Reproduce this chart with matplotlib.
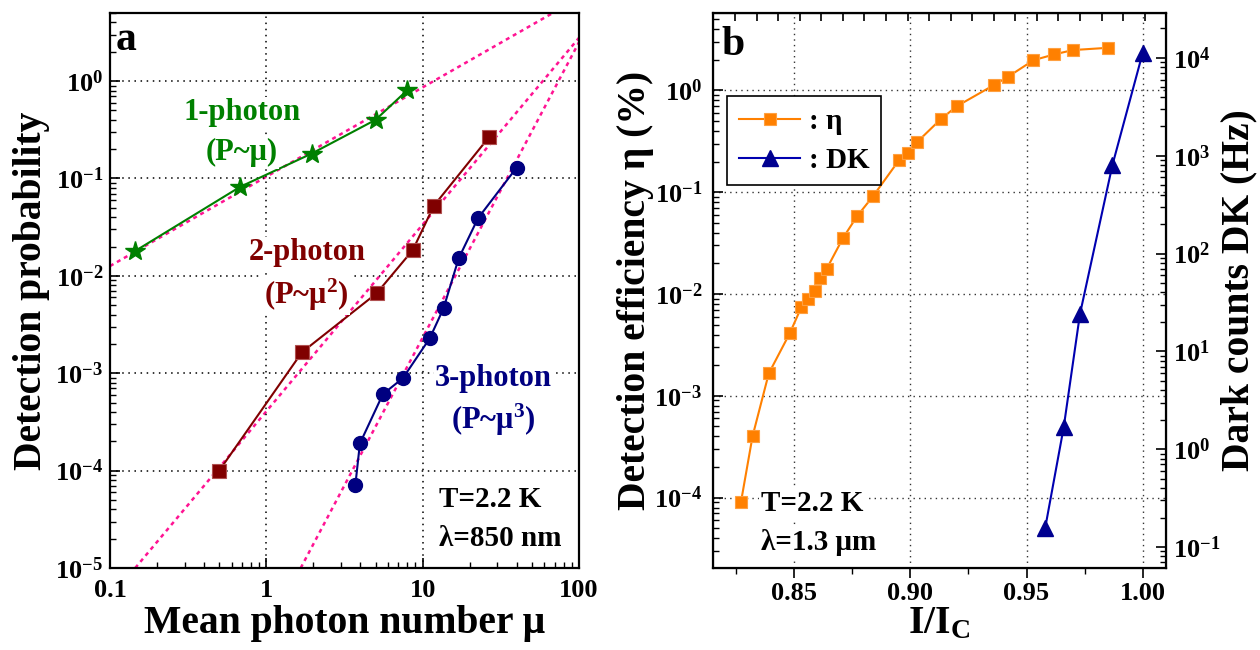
import numpy as np
import matplotlib
matplotlib.use("Agg")
import matplotlib.pyplot as plt
from matplotlib.ticker import LogLocator, MultipleLocator, NullFormatter, FormatStrFormatter

plt.rcParams["font.family"] = ["Liberation Serif", "DejaVu Serif"]
plt.rcParams["font.weight"] = "bold"
plt.rcParams["axes.labelweight"] = "bold"
plt.rcParams["mathtext.fontset"] = "custom"
plt.rcParams["mathtext.rm"] = "Liberation Serif:bold"
plt.rcParams["mathtext.bf"] = "Liberation Serif:bold"
plt.rcParams["mathtext.it"] = "Liberation Serif:italic:bold"
plt.rcParams["mathtext.default"] = "bf"

# panel a: detection probability vs mean photon number
mu_1ph = [0.145, 0.68, 1.95, 5.0, 8.0]
p_1ph = [0.018, 0.082, 0.18, 0.40, 0.81]
mu_2ph = [0.5, 1.69, 5.07, 8.65, 11.8, 26.6]
p_2ph = [1.0e-4, 1.64e-3, 6.6e-3, 0.0184, 0.0525, 0.266]
mu_3ph = [3.71, 3.97, 5.57, 7.48, 11.1, 13.6, 17.0, 22.6, 39.9]
p_3ph = [7.1e-5, 1.9e-4, 6.1e-4, 8.9e-4, 2.28e-3, 4.64e-3, 0.0151, 0.039, 0.129]

# fitted power laws, end points as drawn
fit_1ph_mu = [0.1, 68.0]
fit_1ph_p = [0.0126, 5.0]
fit_2ph_mu = [0.145, 100.0]
fit_2ph_p = [1e-5, 2.78]
fit_3ph_mu = [1.66, 100.0]
fit_3ph_p = [1e-5, 2.5]

# panel b: efficiency and dark counts vs bias current
ic_eta = [0.827, 0.832, 0.839, 0.848, 0.853, 0.856, 0.859, 0.861, 0.864, 0.871,
          0.877, 0.884, 0.895, 0.899, 0.903, 0.913, 0.920, 0.936, 0.942, 0.953,
          0.962, 0.970, 0.985]
eta = [9.0e-5, 4.0e-4, 1.66e-3, 4.1e-3, 7.4e-3, 8.9e-3, 0.0106, 0.0143, 0.0178, 0.0356,
       0.058, 0.092, 0.205, 0.244, 0.313, 0.52, 0.70, 1.13, 1.36, 1.98,
       2.26, 2.49, 2.62]
ic_dk = [0.958, 0.966, 0.973, 0.987, 1.000]
dk = [0.155, 1.67, 24.0, 805.0, 1.12e4]

PINK = "#ff1493"
TICK_FS = 19
LABEL_FS = 28.5
NOTE_FS = 21
WHITE_BOX = dict(facecolor="white", edgecolor="none", pad=1)

fig = plt.figure(figsize=(12.6, 6.5), dpi=100)
ax_a = fig.add_axes([0.0873, 0.1262, 0.3722, 0.8538])
ax_b = fig.add_axes([0.5661, 0.1266, 0.3590, 0.8539])

# ---- panel a ----
ax_a.set_xscale("log")
ax_a.set_yscale("log")
for fx, fy in [(fit_1ph_mu, fit_1ph_p), (fit_2ph_mu, fit_2ph_p), (fit_3ph_mu, fit_3ph_p)]:
    ax_a.plot(fx, fy, color=PINK, lw=1.8, ls=(0, (1.6, 1.6)), zorder=1)
ax_a.plot(mu_1ph, p_1ph, color="#008000", lw=1.5, marker="*", ms=15, zorder=2)
ax_a.plot(mu_2ph, p_2ph, color="#800000", lw=1.5, marker="s", ms=10,
          mec="#b05050", mew=0.8, zorder=2)
ax_a.plot(mu_3ph, p_3ph, color="#000080", lw=1.5, marker="o", ms=10, zorder=2)

ax_a.set_xlim(0.1, 100)
ax_a.set_ylim(1e-5, 5)
ax_a.set_xticks([0.1, 1, 10, 100])
ax_a.set_xticklabels(["0.1", "1", "10", "100"])
ax_a.yaxis.set_major_locator(LogLocator(base=10, numticks=10))
ax_a.yaxis.set_minor_locator(LogLocator(base=10, subs=np.arange(2, 10), numticks=10))
ax_a.yaxis.set_minor_formatter(NullFormatter())
ax_a.xaxis.set_minor_locator(LogLocator(base=10, subs=np.arange(2, 10), numticks=10))
ax_a.xaxis.set_minor_formatter(NullFormatter())
ax_a.tick_params(which="both", direction="in", labelsize=TICK_FS, top=False, right=False)
ax_a.tick_params(which="major", length=7, width=1.2)
ax_a.tick_params(which="minor", length=4, width=1)
ax_a.tick_params(axis="x", pad=8)
ax_a.tick_params(axis="y", pad=5)
ax_a.grid(True, which="major", color="black", ls=(0, (1, 3)), lw=1.1)
for s in ax_a.spines.values():
    s.set_linewidth(1.6)
ax_a.set_xlabel("Mean photon number μ", fontsize=LABEL_FS, labelpad=2)
ax_a.set_ylabel("Detection probability", fontsize=LABEL_FS, labelpad=4)

ax_a.text(0.012, 0.951, "a", transform=ax_a.transAxes, fontsize=30, va="center")
ax_a.text(0.281, 0.820, "1-photon", transform=ax_a.transAxes, fontsize=22,
          color="#008000", ha="center", va="center", bbox=WHITE_BOX)
ax_a.text(0.281, 0.748, "(P~μ)", transform=ax_a.transAxes, fontsize=22,
          color="#008000", ha="center", va="center", bbox=WHITE_BOX)
ax_a.text(0.420, 0.568, "2-photon", transform=ax_a.transAxes, fontsize=22,
          color="#800000", ha="center", va="center", bbox=WHITE_BOX)
ax_a.text(0.418, 0.492, "(P~μ$^{2}$)", transform=ax_a.transAxes, fontsize=22,
          color="#800000", ha="center", va="center", bbox=WHITE_BOX)
ax_a.text(0.818, 0.341, "3-photon", transform=ax_a.transAxes, fontsize=22,
          color="#000080", ha="center", va="center", bbox=WHITE_BOX)
ax_a.text(0.818, 0.267, "(P~μ$^{3}$)", transform=ax_a.transAxes, fontsize=22,
          color="#000080", ha="center", va="center", bbox=WHITE_BOX)
ax_a.text(0.701, 0.123, "T=2.2 K", transform=ax_a.transAxes, fontsize=NOTE_FS,
          va="center", bbox=WHITE_BOX)
ax_a.text(0.701, 0.054, "λ=850 nm", transform=ax_a.transAxes, fontsize=NOTE_FS,
          va="center", bbox=WHITE_BOX)

# ---- panel b ----
ax_b.set_yscale("log")
l_eta, = ax_b.plot(ic_eta, eta, color="#ff8000", lw=1.5, marker="s", ms=9,
                   mec="#ffa040", mew=0.8, label=": η", zorder=3)
ax_b.set_xlim(0.8151, 1.0099)
ax_b.set_ylim(2.05e-5, 5.8)
ax_b.xaxis.set_major_locator(MultipleLocator(0.05))
ax_b.xaxis.set_minor_locator(MultipleLocator(0.025))
ax_b.xaxis.set_major_formatter(FormatStrFormatter("%.2f"))
ax_b.yaxis.set_major_locator(LogLocator(base=10, numticks=10))
ax_b.yaxis.set_minor_locator(LogLocator(base=10, subs=np.arange(2, 10), numticks=10))
ax_b.yaxis.set_minor_formatter(NullFormatter())
ax_b.tick_params(axis="x", which="both", direction="out", labelsize=TICK_FS, top=False)
ax_b.tick_params(axis="y", which="both", direction="in", labelsize=TICK_FS, right=False)
ax_b.tick_params(which="major", length=7, width=1.2)
ax_b.tick_params(which="minor", length=4, width=1)
ax_b.tick_params(axis="y", pad=8)
ax_b.grid(True, which="major", color="#333333", ls=(0, (1, 3)), lw=1.0)
for s in ax_b.spines.values():
    s.set_linewidth(1.6)
ax_b.set_xlabel("I/I$_{\\mathbf{C}}$", fontsize=LABEL_FS, labelpad=0)
ax_b.set_ylabel("Detection efficiency η (%)", fontsize=LABEL_FS, labelpad=0)

# unlabelled ticks along the top edge
top = ax_b.secondary_xaxis("top")
top.set_xticks(np.linspace(0.8245, 1.0009, 20))
top.tick_params(direction="in", length=6, width=1.2, labeltop=False)

ax_dk = ax_b.twinx()
ax_dk.set_yscale("log")
l_dk, = ax_dk.plot(ic_dk, dk, color="#0000b0", lw=1.5, marker="^", ms=11,
                   mfc="#000090", mec="#000090", label=": DK", zorder=3)
ax_dk.set_ylim(0.0614, 2.9e4)
ax_dk.yaxis.set_major_locator(LogLocator(base=10, numticks=10))
ax_dk.yaxis.set_minor_locator(LogLocator(base=10, subs=np.arange(2, 10), numticks=10))
ax_dk.yaxis.set_minor_formatter(NullFormatter())
ax_dk.tick_params(which="both", direction="in", labelsize=TICK_FS)
ax_dk.tick_params(which="major", length=7, width=1.2)
ax_dk.tick_params(which="minor", length=4, width=1)
ax_dk.tick_params(axis="y", pad=5)
ax_dk.set_ylabel("Dark counts DK (Hz)", fontsize=LABEL_FS, labelpad=0)

leg = ax_dk.legend(handles=[l_eta, l_dk], loc="upper left", bbox_to_anchor=(0.031, 0.849),
                   fontsize=NOTE_FS, frameon=True, fancybox=False, framealpha=1,
                   edgecolor="black", handlelength=2.1, borderpad=0.4,
                   labelspacing=0.4, handletextpad=0.3, borderaxespad=0)
leg.get_frame().set_linewidth(1.2)

ax_b.text(0.018, 0.942, "b", transform=ax_b.transAxes, fontsize=30, va="center")
ax_b.text(0.105, 0.115, "T=2.2 K", transform=ax_b.transAxes, fontsize=NOTE_FS,
          va="center", bbox=WHITE_BOX, zorder=4)
ax_b.text(0.105, 0.045, "λ=1.3 μm", transform=ax_b.transAxes, fontsize=NOTE_FS,
          va="center", bbox=WHITE_BOX, zorder=4)

fig.savefig("out.png", dpi=100)
